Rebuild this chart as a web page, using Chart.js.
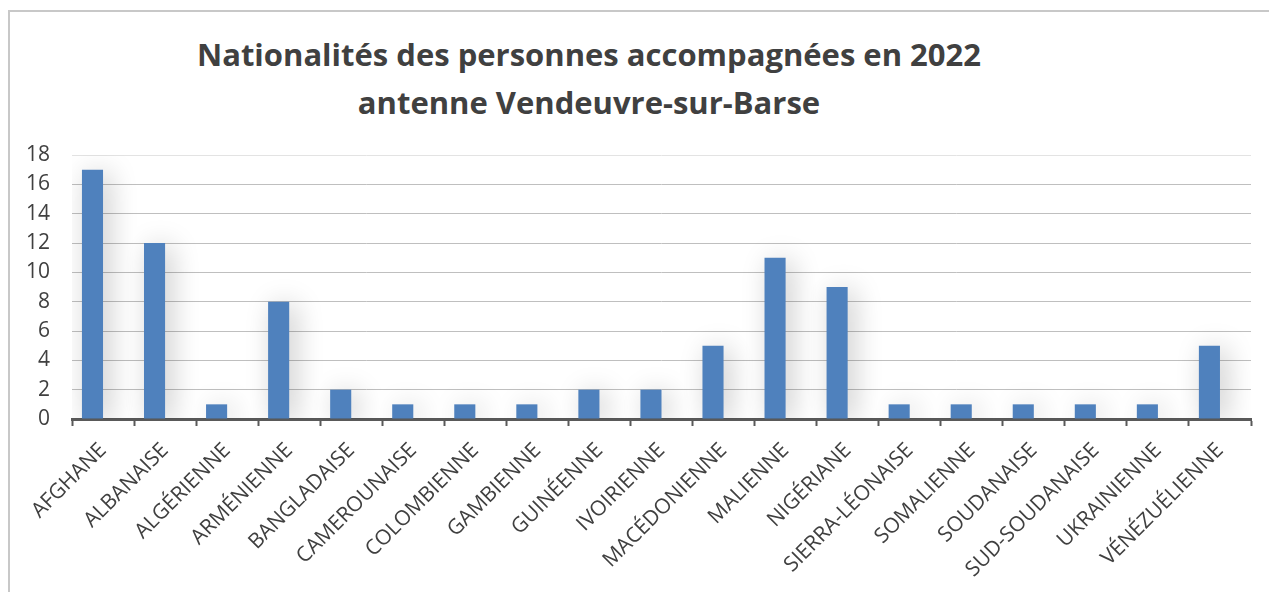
<!DOCTYPE html>
<html>
<head>
<meta charset="utf-8">
<script src="https://cdn.jsdelivr.net/npm/chart.js@4/dist/chart.umd.min.js"></script>
<style>
  html, body { margin: 0; padding: 0; background: #fff; overflow: hidden; }
  #frame {
    position: absolute; left: 8px; top: 10px; width: 1300px; height: 640px;
    border-left: 2px solid #c8c8c8; border-top: 2px solid #c8c8c8;
  }
  #title {
    position: absolute; left: 589px; top: 30px; transform: translateX(-50%);
    font-family: "Open Sans", sans-serif; font-weight: bold; font-size: 31px;
    line-height: 48px; color: #404040; text-align: center; white-space: nowrap;
  }
  #wrap { position: absolute; left: 0; top: 0; width: 1269px; height: 592px; }
</style>
</head>
<body>
<div id="frame"></div>
<div id="title">Nationalités des personnes accompagnées en 2022<br>antenne Vendeuvre-sur-Barse</div>
<div id="wrap"><canvas id="chart"></canvas></div>
<script>
// data
const nationalities = ['AFGHANE', 'ALBANAISE', 'ALGÉRIENNE', 'ARMÉNIENNE', 'BANGLADAISE', 'CAMEROUNAISE',
  'COLOMBIENNE', 'GAMBIENNE', 'GUINÉENNE', 'IVOIRIENNE', 'MACÉDONIENNE', 'MALIENNE', 'NIGÉRIANE',
  'SIERRA-LÉONAISE', 'SOMALIENNE', 'SOUDANAISE', 'SUD-SOUDANAISE', 'UKRAINIENNE', 'VÉNÉZUÉLIENNE'];
const persons = [17, 12, 1, 8, 2, 1, 1, 1, 2, 2, 5, 11, 9, 1, 1, 1, 1, 1, 5];
// the original sheet has a second, empty series: bars sit left of the category centre
const emptySeries = [];
const yMin = 0;
const yMax = 18;
const yStep = 2;

// soft shadow behind the bars, like the office chart
const barShadow = {
  id: 'barShadow',
  beforeDatasetsDraw(chart) {
    const ctx = chart.ctx;
    ctx.save();
    ctx.shadowColor = 'rgba(0, 0, 0, 0.22)';
    ctx.shadowBlur = 28;
    ctx.shadowOffsetX = 6;
    ctx.shadowOffsetY = 3;
  },
  afterDatasetsDraw(chart) {
    chart.ctx.restore();
  }
};

document.addEventListener('DOMContentLoaded', function() {
  const ctx = document.getElementById('chart').getContext('2d');

  new Chart(ctx, {
    type: 'bar',
    data: {
      labels: nationalities,
      datasets: [{
        label: 'Personnes',
        data: persons,
        backgroundColor: '#4f81bd'
      }, {
        label: '',
        data: emptySeries,
        backgroundColor: '#c0504d'
      }]
    },
    options: {
      responsive: true,
      maintainAspectRatio: false,
      animation: false,
      datasets: { bar: { barPercentage: 1, categoryPercentage: 0.68 } },
      layout: { padding: { left: 4, right: 18, top: 155, bottom: 0 } },
      plugins: {
        legend: { display: false },
        tooltip: { enabled: false }
      },
      scales: {
        x: {
          // keep the label band the same height as in the original
          afterFit: function(scale) { scale.height = 173; },
          grid: {
            offset: true,
            drawOnChartArea: false,
            drawTicks: true,
            tickLength: 7,
            tickWidth: 2,
            tickColor: '#595959'
          },
          border: { color: '#595959', width: 3 },
          ticks: {
            color: '#404040',
            font: { family: 'Open Sans', size: 21 },
            minRotation: 45,
            maxRotation: 45,
            autoSkip: false,
            padding: 12
          }
        },
        y: {
          min: yMin,
          max: yMax,
          border: { display: false },
          grid: {
            drawTicks: false,
            color: function(c) { return c.tick && c.tick.value === yMax ? '#e3e3e3' : '#bfbfbf'; },
            lineWidth: 1
          },
          ticks: {
            stepSize: yStep,
            autoSkip: false,
            color: '#404040',
            font: { family: 'Open Sans', size: 21 },
            padding: 22
          }
        }
      }
    },
    plugins: [barShadow]
  });
});
</script>
</body>
</html>
